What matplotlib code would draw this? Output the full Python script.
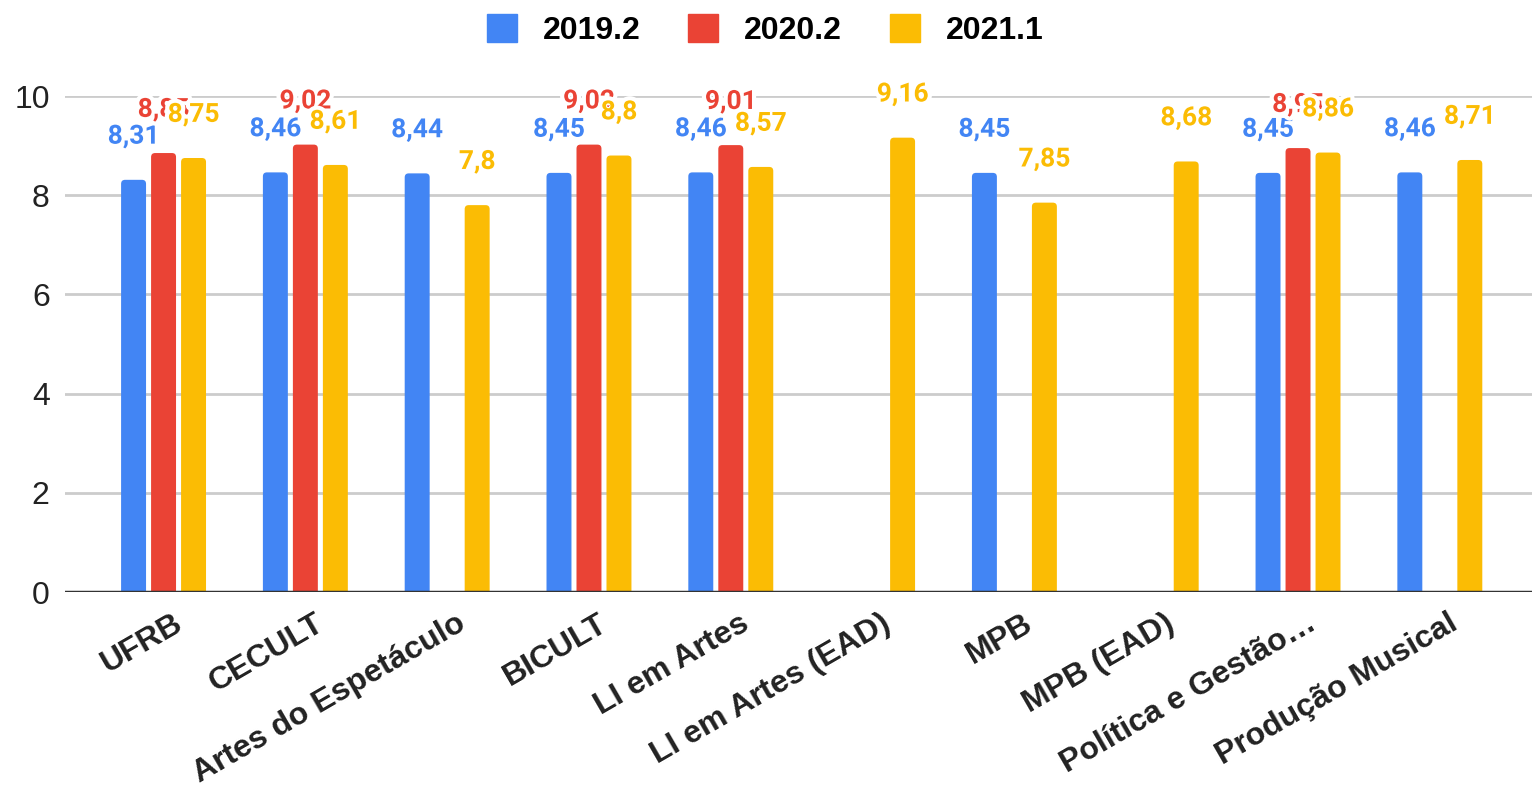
import numpy as np
import matplotlib
matplotlib.use("Agg")
import matplotlib.pyplot as plt
from matplotlib.patches import Patch, FancyBboxPatch
import matplotlib.patheffects as pe

plt.rcParams['font.family'] = ['Liberation Sans', 'DejaVu Sans']

categories = ["UFRB", "CECULT", "Artes do Espetáculo", "BICULT", "LI em Artes",
              "LI em Artes (EAD)", "MPB", "MPB (EAD)", "Política e Gestão…", "Produção Musical"]
series_names = ["2019.2", "2020.2", "2021.1"]
s2019_2 = [8.31, 8.46, 8.44, 8.45, 8.46, np.nan, 8.45, np.nan, 8.45, 8.46]
s2020_2 = [8.85, 9.02, np.nan, 9.02, 9.01, np.nan, np.nan, np.nan, 8.95, np.nan]
s2021_1 = [8.75, 8.61, 7.8, 8.8, 8.57, 9.16, 7.85, 8.68, 8.86, 8.71]
colors = ["#4285F4", "#EA4335", "#FBBC04"]
yticks = [0, 2, 4, 6, 8, 10]

W, H = 1532, 790
fig = plt.figure(figsize=(W / 100, H / 100), dpi=100)
ax = fig.add_axes([65 / W, 1 - 592 / H, 1 - 65 / W, (592 - 96) / H])

xlim = (-0.695, 9.65)
ylim = (0, 10)
ax.set_xlim(*xlim)
ax.set_ylim(*ylim)
px_x = (xlim[1] - xlim[0]) / (W - 65)      # data units per pixel in x
px_y = (ylim[1] - ylim[0]) / (592 - 96)    # data units per pixel in y
radius = 4 * px_x
aspect = px_y / px_x

x = np.arange(len(categories))
offs = [-0.2115, 0.0, 0.2115]
bw = 0.176
for k, (vals, col) in enumerate(zip([s2019_2, s2020_2, s2021_1], colors)):
    vals = np.array(vals, dtype=float)
    for xi, v in zip(x, vals):
        if np.isnan(v):
            continue
        bottom = -0.2
        p = FancyBboxPatch((xi + offs[k] - bw / 2, bottom), bw, v - bottom,
                           boxstyle=f"round,pad=0,rounding_size={radius}",
                           mutation_aspect=aspect, facecolor=col, edgecolor='none',
                           zorder=3)
        ax.add_patch(p)
        lab = f"{v:g}".replace('.', ',')
        ax.text(xi + offs[k], v + 0.87, lab, ha='center', va='center', color=col,
                fontsize=19, fontweight='bold', zorder=5 + k, family=['Roboto', 'DejaVu Sans'],
                path_effects=[pe.withStroke(linewidth=6, foreground='white')])

ax.set_yticks(yticks)
ax.set_yticklabels([str(t) for t in yticks], fontsize=23, color='#222222')
ax.yaxis.grid(True, color='#cccccc', linewidth=2, zorder=0)
ax.axhline(0, color='#333333', linewidth=2.5, zorder=4)
for s in ax.spines.values():
    s.set_visible(False)
ax.tick_params(axis='y', length=0, pad=11)
ax.tick_params(axis='x', length=0, pad=12)
ax.set_xticks(x + 0.06)
ax.set_xticklabels(categories, rotation=30, ha='right', va='top', rotation_mode='anchor',
                   fontsize=23, fontweight='bold', color='#222222')

handles = [Patch(facecolor=c, edgecolor=c, label=n) for c, n in zip(colors, series_names)]
fig.legend(handles=handles, loc='center', bbox_to_anchor=(765 / W, 1 - 30 / H), ncol=3,
           frameon=False, prop={'weight': 'bold', 'size': 23}, handlelength=0.95,
           handleheight=0.95, columnspacing=1.5, handletextpad=0.8)

fig.savefig("out.png", dpi=100, facecolor='white')
